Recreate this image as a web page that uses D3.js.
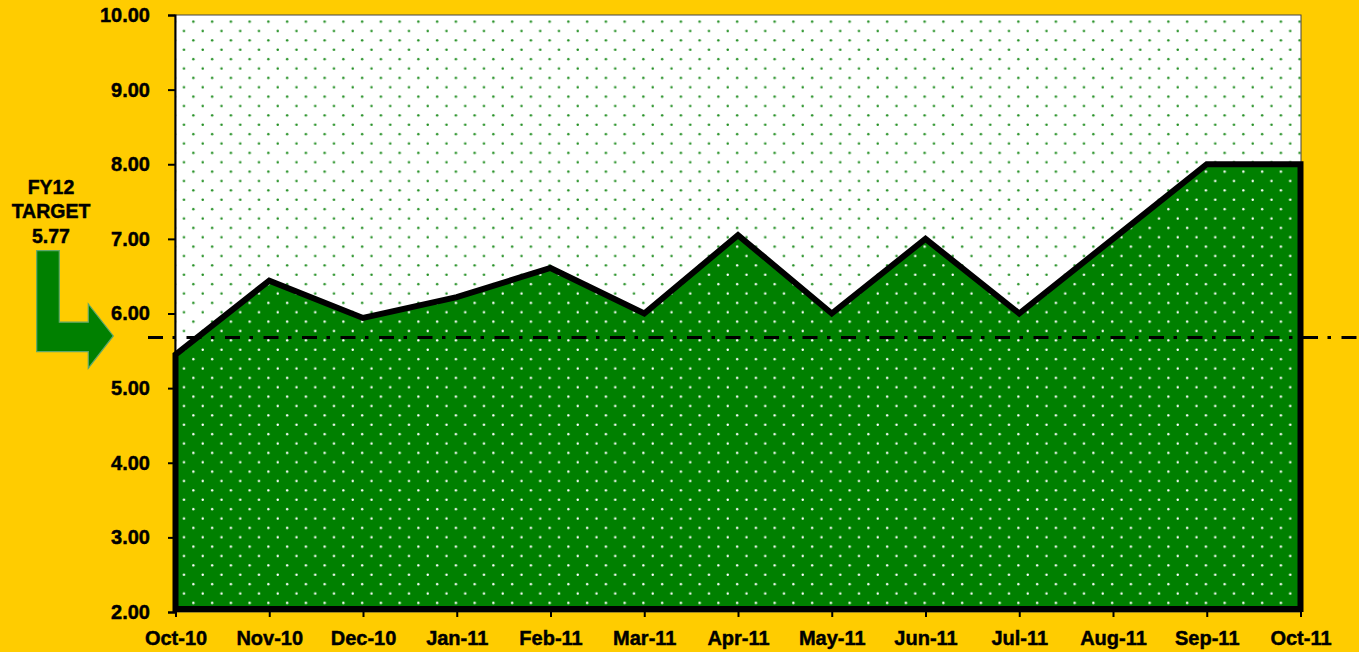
<!DOCTYPE html>
<html>
<head>
<meta charset="utf-8">
<script src="https://cdn.jsdelivr.net/npm/d3@7"></script>
<style>
  html, body { margin: 0; padding: 0; background: #FFCC00; }
  svg { display: block; font-family: "Liberation Sans", Arial, sans-serif; font-weight: bold; }
</style>
</head>
<body>
<div id="chart"></div>
<script>
const months = ["Oct-10", "Nov-10", "Dec-10", "Jan-11", "Feb-11", "Mar-11", "Apr-11",
                "May-11", "Jun-11", "Jul-11", "Aug-11", "Sep-11", "Oct-11"];
const values = [5.45, 6.44, 5.94, 6.22, 6.61, 6.0, 7.05, 6.0, 7.0, 6.0, 7.0, 8.0, 8.0];
const yTicks = [2, 3, 4, 5, 6, 7, 8, 9, 10];
const targetText = ["FY12", "TARGET", "5.77"];
const targetLevel = 5.68;

document.addEventListener('DOMContentLoaded', () => {
    const width = 1359;
    const height = 652;
    const plot = { left: 175, right: 1301, top: 15, bottom: 612 };

    const svg = d3.select("#chart")
      .append("svg")
      .attr("width", width)
      .attr("height", height);

    const xScale = d3.scalePoint()
      .domain(months)
      .range([plot.left + 0.5, plot.right - 0.5]);

    const yScale = d3.scaleLinear()
      .domain([2, 10])
      .range([plot.bottom, plot.top]);

    // dotted fills, same 18.75px staggered grid for both
    const P = 18.75;
    const defs = svg.append("defs");
    function dotPattern(id, bg, dot, r) {
      const p = defs.append("pattern")
        .attr("id", id)
        .attr("patternUnits", "userSpaceOnUse")
        .attr("x", 184 - P / 4)
        .attr("y", 31 - P / 4)
        .attr("width", P)
        .attr("height", P);
      p.append("rect").attr("width", P).attr("height", P).attr("fill", bg);
      [[P / 4, P / 4], [3 * P / 4, 3 * P / 4]].forEach(c => {
        p.append("circle").attr("cx", c[0]).attr("cy", c[1]).attr("r", r).attr("fill", dot);
      });
    }
    dotPattern("whiteDots", "#ffffff", "#259025", 1.25);
    dotPattern("greenDots", "#008000", "#ffffff", 1.2);

    svg.append("rect")
      .attr("x", plot.left)
      .attr("y", plot.top)
      .attr("width", plot.right - plot.left)
      .attr("height", plot.bottom - plot.top)
      .attr("fill", "url(#whiteDots)")
      .attr("stroke", "#444")
      .attr("stroke-width", 1);

    const area = d3.area()
      .x((d, i) => xScale(months[i]))
      .y0(yScale(2) - 3)
      .y1(d => yScale(d));

    svg.append("path")
      .datum(values)
      .attr("fill", "url(#greenDots)")
      .attr("stroke", "#000")
      .attr("stroke-width", 6)
      .attr("stroke-linejoin", "miter")
      .attr("d", area);

    // target line
    const ty = yScale(targetLevel);
    svg.append("line")
      .attr("x1", 148)
      .attr("x2", width)
      .attr("y1", ty)
      .attr("y2", ty)
      .attr("stroke", "#000")
      .attr("stroke-width", 3)
      .attr("stroke-dasharray", "15,9.5,3.5,10.5");

    function styleText(sel, size) {
      sel.attr("font-size", size)
        .attr("font-weight", "bold")
        .attr("font-family", "Liberation Sans, Arial, sans-serif")
        .attr("fill", "#000")
        .attr("stroke", "#000")
        .attr("stroke-width", 0.45);
    }

    const yAxis = d3.axisLeft(yScale)
      .tickValues(yTicks)
      .tickSize(7)
      .tickPadding(18)
      .tickFormat(d3.format(".2f"));

    const gy = svg.append("g")
      .attr("transform", `translate(${plot.left}, 0)`)
      .call(yAxis);
    gy.select(".domain").attr("stroke-width", 2);
    gy.selectAll(".tick line").attr("stroke-width", 2);
    styleText(gy.selectAll("text"), 20);

    const xAxis = d3.axisBottom(xScale)
      .tickSize(5)
      .tickPadding(14);

    const gx = svg.append("g")
      .attr("transform", `translate(0, ${plot.bottom})`)
      .call(xAxis);
    gx.select(".domain").remove();
    gx.selectAll(".tick line").attr("stroke-width", 2);
    styleText(gx.selectAll("text"), 20);

    // FY12 target label and arrow
    const label = svg.append("g")
      .selectAll("text")
      .data(targetText)
      .join("text")
      .attr("x", 51)
      .attr("y", (d, i) => 194 + i * 24.3)
      .attr("text-anchor", "middle")
      .text(d => d);
    styleText(label, 19.5);

    const tipY = ty - 1.5;
    const arrow = [
      [36.7, tipY - 85.3], [59.3, tipY - 85.3], [59.3, tipY - 13.7], [88.3, tipY - 13.7],
      [88.3, tipY - 32], [113.3, tipY], [88.3, tipY + 32.3], [88.3, tipY + 15.7], [36.7, tipY + 15.7]
    ];
    svg.append("path")
      .attr("d", d3.line()(arrow) + "Z")
      .attr("fill", "#008000")
      .attr("stroke", "#5fa86a")
      .attr("stroke-width", 1.2);
});
</script>
</body>
</html>
